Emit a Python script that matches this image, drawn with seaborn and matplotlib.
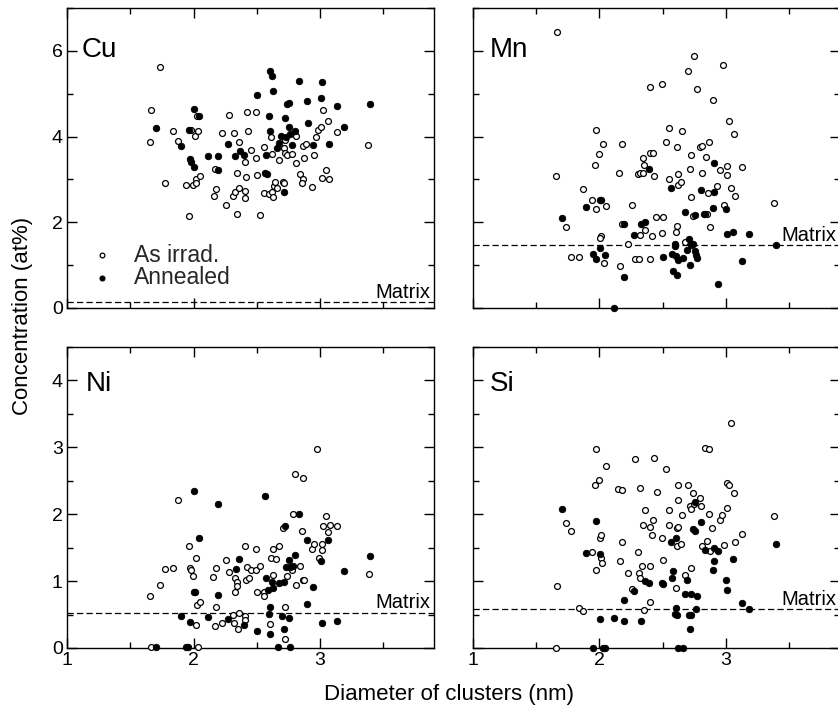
import matplotlib
matplotlib.use("Agg")
import matplotlib.pyplot as plt
from matplotlib.ticker import MultipleLocator
import seaborn as sns

# ---- Cu ----
cu_irr_d = [1.737, 1.666, 1.655, 1.776, 1.834, 1.874, 1.942, 1.963, 1.979, 2.013, 2.026, 2.037,
            1.995, 2.016, 2.053, 2.02, 2.163, 2.174, 2.168, 2.224, 2.255, 2.284, 2.308, 2.316,
            2.326, 2.345, 2.347, 2.358, 2.363, 2.405, 2.408, 2.408, 2.416, 2.424, 2.434, 2.453,
            2.495, 2.495, 2.503, 2.524, 2.553, 2.555, 2.595, 2.613, 2.616, 2.621, 2.626, 2.637,
            2.645, 2.658, 2.676, 2.705, 2.716, 2.716, 2.724, 2.737, 2.726, 2.774, 2.808, 2.813,
            2.842, 2.861, 2.863, 2.855, 2.871, 2.892, 2.934, 2.953, 2.968, 2.982, 3.008, 3.013,
            3.021, 3.047, 3.066, 3.074, 3.132, 3.382]
cu_irr_c = [5.63, 4.61, 3.87, 2.92, 4.14, 3.89, 2.88, 2.14, 4.15, 4.01, 4.47, 4.12,
            2.88, 3.02, 3.07, 2.92, 2.61, 2.77, 3.25, 4.08, 2.41, 4.50, 2.62, 4.08,
            2.71, 3.14, 2.20, 2.79, 3.87, 2.74, 2.57, 3.41, 3.05, 4.57, 4.12, 3.68,
            4.58, 3.49, 3.11, 2.18, 3.76, 2.69, 2.67, 4.00, 3.59, 2.71, 2.59, 2.84,
            2.95, 2.81, 3.45, 2.94, 2.92, 3.74, 3.62, 3.56, 3.91, 3.59, 4.01, 3.39,
            3.13, 3.79, 3.02, 2.91, 3.49, 3.83, 2.83, 3.57, 3.98, 4.15, 4.22, 3.03,
            4.61, 3.23, 4.36, 3.02, 4.11, 3.80]
cu_ann_d = [1.705, 1.897, 1.961, 1.974, 1.976, 2.005, 2.005, 2.045, 2.116, 2.192, 2.195, 2.274,
            2.326, 2.366, 2.395, 2.503, 2.571, 2.563, 2.584, 2.595, 2.603, 2.616, 2.603, 2.624,
            2.663, 2.674, 2.692, 2.713, 2.724, 2.732, 2.739, 2.755, 2.753, 2.761, 2.776, 2.805,
            2.837, 2.895, 2.905, 2.942, 3.005, 3.013, 3.068, 3.134, 3.187, 3.392]
cu_ann_c = [4.19, 3.78, 4.15, 3.47, 3.41, 4.65, 3.28, 4.48, 3.54, 3.55, 3.23, 3.82,
            3.55, 3.66, 3.57, 4.98, 3.56, 3.16, 3.13, 4.49, 5.54, 5.42, 4.12, 5.06,
            3.73, 3.84, 4.01, 2.70, 4.44, 3.99, 4.77, 4.79, 4.22, 4.05, 3.80, 4.12,
            5.29, 4.83, 4.31, 3.80, 4.90, 5.28, 3.82, 4.72, 4.22, 4.76]
cu_matrix = 0.13

# ---- Mn ----
mn_irr_d = [1.667, 1.656, 1.735, 1.777, 1.837, 1.874, 1.945, 1.976, 1.969, 1.997, 1.976, 2.026,
            2.055, 2.013, 2.005, 2.034, 2.155, 2.176, 2.165, 2.181, 2.255, 2.226, 2.281, 2.315,
            2.304, 2.323, 2.344, 2.357, 2.346, 2.404, 2.404, 2.425, 2.436, 2.365, 2.325, 2.415,
            2.404, 2.451, 2.504, 2.496, 2.496, 2.525, 2.554, 2.554, 2.614, 2.625, 2.625, 2.646,
            2.656, 2.614, 2.604, 2.675, 2.703, 2.745, 2.724, 2.714, 2.724, 2.743, 2.774, 2.795,
            2.808, 2.811, 2.845, 2.858, 2.850, 2.866, 2.895, 2.874, 2.934, 2.953, 2.974, 2.984,
            3.013, 3.013, 3.024, 3.039, 3.063, 3.073, 3.131, 3.383, 2.832]
mn_irr_c = [6.44, 3.09, 1.89, 1.18, 1.19, 2.77, 2.53, 4.15, 3.34, 3.59, 2.31, 3.83,
            2.39, 1.68, 1.63, 1.04, 3.16, 3.83, 0.98, 1.97, 2.41, 1.49, 1.14, 1.14,
            3.12, 3.16, 3.16, 3.34, 3.51, 5.15, 3.62, 3.61, 3.09, 1.82, 1.71, 1.69,
            1.15, 2.13, 2.12, 5.23, 1.75, 3.87, 4.19, 3.01, 3.75, 3.13, 2.87, 2.95,
            4.14, 1.91, 1.78, 1.53, 5.52, 5.88, 3.58, 3.24, 2.58, 2.14, 5.12, 3.76,
            3.77, 3.15, 3.53, 2.69, 2.19, 3.87, 4.85, 1.89, 2.84, 3.23, 5.66, 2.41,
            3.31, 3.10, 4.36, 2.81, 4.07, 2.61, 3.30, 2.46, 2.20]
mn_ann_d = [1.709, 1.898, 2.005, 2.016, 2.005, 1.953, 1.976, 2.047, 2.115, 2.194, 2.194, 2.273,
            2.333, 2.365, 2.396, 2.504, 2.564, 2.575, 2.596, 2.601, 2.606, 2.622, 2.583, 2.614,
            2.664, 2.675, 2.693, 2.711, 2.717, 2.727, 2.743, 2.753, 2.753, 2.764, 2.769, 2.803,
            2.829, 2.895, 2.903, 2.903, 2.942, 3.000, 3.013, 3.060, 3.131, 3.184, 3.394]
mn_ann_c = [2.10, 2.36, 2.53, 2.52, 1.40, 1.25, 1.15, 1.23, 0.01, 0.72, 1.97, 1.70,
            1.97, 2.01, 3.24, 1.19, 2.81, 1.25, 1.50, 1.44, 1.21, 1.13, 0.86, 0.76,
            1.16, 2.24, 1.35, 1.61, 1.00, 1.47, 1.50, 2.18, 1.32, 1.23, 1.17, 2.75,
            2.20, 2.34, 2.70, 3.39, 0.55, 2.31, 1.72, 1.77, 1.09, 1.72, 1.46]
mn_matrix = 1.46

# ---- Ni ----
ni_irr_d = [1.658, 1.666, 1.737, 1.774, 1.834, 1.876, 1.966, 1.974, 1.979, 1.995, 2.016, 2.016,
            2.026, 2.053, 2.037, 2.153, 2.176, 2.174, 2.166, 2.224, 2.255, 2.284, 2.308, 2.316,
            2.324, 2.324, 2.345, 2.345, 2.353, 2.363, 2.403, 2.405, 2.405, 2.411, 2.424, 2.437,
            2.455, 2.495, 2.497, 2.503, 2.524, 2.553, 2.558, 2.605, 2.611, 2.626, 2.626, 2.655,
            2.676, 2.705, 2.724, 2.726, 2.742, 2.776, 2.787, 2.803, 2.813, 2.845, 2.855, 2.863,
            2.866, 2.876, 2.934, 2.955, 2.974, 2.989, 3.013, 3.016, 3.021, 3.045, 3.066, 3.076,
            3.132, 3.384]
ni_irr_c = [0.78, 0.01, 0.94, 1.18, 1.19, 2.22, 1.53, 1.19, 1.16, 1.08, 1.35, 0.34,
            0.65, 0.69, 0.01, 1.06, 1.19, 0.61, 0.33, 0.38, 1.31, 1.13, 0.49, 0.38,
            1.04, 0.84, 0.98, 0.92, 0.29, 0.52, 0.48, 0.42, 1.52, 1.02, 1.21, 1.04,
            1.17, 1.48, 1.17, 0.83, 1.22, 0.84, 0.77, 0.36, 1.34, 1.48, 1.09, 1.33,
            1.52, 1.80, 0.61, 0.14, 1.07, 1.16, 2.01, 2.60, 0.94, 1.23, 1.75, 2.54,
            1.02, 1.02, 1.48, 1.56, 2.98, 1.35, 1.47, 1.56, 1.82, 1.97, 1.74, 1.84,
            1.83, 1.11]
ni_ann_d = [1.703, 1.897, 1.942, 1.958, 1.974, 2.005, 2.000, 2.013, 2.045, 2.116, 2.195, 2.195,
            2.276, 2.334, 2.363, 2.395, 2.503, 2.566, 2.571, 2.587, 2.595, 2.605, 2.605, 2.618,
            2.626, 2.666, 2.676, 2.697, 2.711, 2.716, 2.726, 2.732, 2.753, 2.753, 2.766, 2.763,
            2.784, 2.805, 2.834, 2.895, 2.900, 2.942, 3.005, 3.013, 3.066, 3.134, 3.187, 3.392]
ni_ann_c = [0.01, 0.48, 0.01, 0.01, 0.39, 2.34, 0.84, 0.84, 1.64, 0.46, 2.15, 0.79,
            0.43, 1.18, 1.33, 0.34, 0.25, 2.27, 1.05, 0.86, 0.51, 0.61, 0.21, 0.99,
            0.89, 0.01, 0.97, 0.48, 0.98, 0.28, 1.82, 1.21, 1.31, 0.45, 0.01, 1.21,
            1.22, 1.39, 2.01, 1.62, 0.66, 0.91, 1.30, 0.38, 1.62, 0.41, 1.15, 1.37]
ni_matrix = 0.52

# ---- Si ----
si_irr_d = [1.656, 1.664, 1.735, 1.777, 1.837, 1.874, 1.945, 1.976, 1.963, 1.995, 1.976, 2.003,
            2.013, 2.016, 2.021, 2.055, 2.152, 2.176, 2.165, 2.176, 2.226, 2.255, 2.286, 2.304,
            2.325, 2.315, 2.323, 2.341, 2.357, 2.365, 2.344, 2.404, 2.425, 2.415, 2.404, 2.404,
            2.436, 2.454, 2.496, 2.504, 2.525, 2.554, 2.554, 2.604, 2.614, 2.625, 2.625, 2.625,
            2.614, 2.646, 2.656, 2.675, 2.703, 2.714, 2.724, 2.724, 2.743, 2.745, 2.795, 2.803,
            2.811, 2.837, 2.864, 2.853, 2.864, 2.874, 2.892, 2.953, 2.971, 2.984, 3.010, 3.024,
            3.039, 3.013, 3.063, 3.073, 3.131, 3.383]
si_irr_c = [0.00, 0.93, 1.87, 1.75, 0.60, 0.56, 1.44, 2.97, 2.43, 2.51, 1.16, 1.64,
            1.69, 1.34, 1.27, 2.72, 2.37, 2.36, 1.30, 1.58, 1.12, 0.88, 2.82, 1.44,
            2.39, 1.12, 1.05, 1.22, 0.57, 2.07, 1.84, 1.81, 1.92, 1.69, 1.22, 0.69,
            2.84, 2.33, 1.64, 1.31, 2.67, 2.07, 1.84, 0.89, 1.79, 1.81, 2.21, 2.44,
            1.53, 1.56, 1.99, 1.09, 2.44, 2.13, 2.08, 1.20, 2.31, 2.16, 2.24, 2.13,
            1.52, 2.99, 2.98, 1.60, 2.01, 1.45, 1.79, 1.91, 1.99, 1.54, 2.47, 2.43,
            3.36, 2.10, 2.32, 1.59, 1.71, 1.98]
si_ann_d = [1.709, 1.898, 1.976, 2.005, 2.005, 1.953, 2.031, 2.047, 2.115, 2.194, 2.197, 2.273,
            2.333, 2.365, 2.396, 2.493, 2.504, 2.564, 2.575, 2.585, 2.604, 2.596, 2.604, 2.614,
            2.622, 2.664, 2.693, 2.675, 2.711, 2.724, 2.717, 2.724, 2.743, 2.753, 2.764, 2.774,
            2.753, 2.803, 2.832, 2.895, 2.903, 2.903, 2.942, 3.000, 3.013, 3.060, 3.131, 3.184,
            3.394]
si_ann_c = [2.08, 1.42, 1.90, 1.41, 0.43, 0.00, 0.00, 0.00, 0.45, 0.72, 0.40, 0.85,
            0.40, 1.00, 0.97, 0.97, 0.95, 1.58, 1.05, 1.15, 1.65, 0.51, 0.60, 0.49,
            0.00, 0.00, 1.01, 0.81, 0.49, 0.50, 0.28, 0.80, 1.78, 1.75, 0.58, 0.77,
            2.18, 1.88, 1.46, 1.17, 1.30, 1.50, 1.45, 1.02, 0.87, 1.33, 0.68, 0.58,
            1.56]
si_matrix = 0.576

series_labels = ["As irrad.", "Annealed"]
x_range = (1.0, 3.9)

sns.set_theme(style="white")
plt.rcParams["font.family"] = ["Liberation Sans", "DejaVu Sans"]
plt.rcParams["axes.edgecolor"] = "black"
plt.rcParams["axes.linewidth"] = 1.0

fig = plt.figure(figsize=(8.38, 7.08), dpi=100)

W = 367 / 838
panels = [
    # name, irr d, irr c, ann d, ann c, matrix, ymax, major, minor, rect, label y, label x, left col, bottom row
    ("Cu", cu_irr_d, cu_irr_c, cu_ann_d, cu_ann_c, cu_matrix, 7.0, 2, 1,
     [67 / 838, 1 - 308 / 708, W, 300 / 708], 0.838, 0.040, True, False),
    ("Mn", mn_irr_d, mn_irr_c, mn_ann_d, mn_ann_c, mn_matrix, 7.0, 2, 1,
     [472.7 / 838, 1 - 308 / 708, W, 300 / 708], 0.838, 0.046, False, False),
    ("Ni", ni_irr_d, ni_irr_c, ni_ann_d, ni_ann_c, ni_matrix, 4.5, 1, 0.5,
     [67 / 838, 1 - 648 / 708, W, 301 / 708], 0.855, 0.052, True, True),
    ("Si", si_irr_d, si_irr_c, si_ann_d, si_ann_c, si_matrix, 4.5, 1, 0.5,
     [472.7 / 838, 1 - 648 / 708, W, 301 / 708], 0.855, 0.046, False, True),
]

for (name, d_irr, c_irr, d_ann, c_ann, matrix, ymax, major, minor, rect,
     ly, lx, left_col, bottom_row) in panels:
    ax = fig.add_axes(rect)
    ax.axhline(matrix, color="black", lw=0.9, ls=(0, (5, 2.6)), zorder=1)
    sns.scatterplot(x=d_irr, y=c_irr, ax=ax, marker="o", s=18, color="white",
                    edgecolor="black", linewidth=0.9, clip_on=False, zorder=3,
                    label=series_labels[0], legend=False)
    sns.scatterplot(x=d_ann, y=c_ann, ax=ax, marker="o", s=22, color="black",
                    edgecolor="black", linewidth=0.6, clip_on=False, zorder=4,
                    label=series_labels[1], legend=False)
    ax.set_xlim(*x_range)
    ax.set_ylim(0, ymax)
    ax.xaxis.set_major_locator(MultipleLocator(1))
    ax.xaxis.set_minor_locator(MultipleLocator(0.5))
    ax.yaxis.set_major_locator(MultipleLocator(major))
    ax.yaxis.set_minor_locator(MultipleLocator(minor))
    ax.tick_params(which="both", direction="in", top=True, right=True,
                   bottom=True, left=True, color="black", width=1.0,
                   labelsize=14, pad=3, labelcolor="black")
    ax.tick_params(which="major", length=7.5)
    ax.tick_params(which="minor", length=4)
    ax.tick_params(labelleft=left_col, labelbottom=bottom_row)
    ax.set_xlabel("")
    ax.set_ylabel("")
    for sp in ax.spines.values():
        sp.set_color("black")
        sp.set_linewidth(1.0)
    ax.text(lx, ly, name, transform=ax.transAxes, fontsize=20,
            ha="left", va="baseline", color="black")
    ax.annotate("Matrix", xy=(0.99, matrix), xycoords=("axes fraction", "data"),
                xytext=(0, 3.5), textcoords="offset points", ha="right",
                va="baseline", fontsize=14.5, color="black")
    if name == "Cu":
        ax.legend(loc="upper left", bbox_to_anchor=(0.065, 0.215), frameon=False,
                  fontsize=16.5, handlelength=1.0, handletextpad=0.9,
                  labelspacing=0.0, borderpad=0, borderaxespad=0,
                  markerscale=0.8)

fig.text(0.027, 1 - 315.5 / 708, "Concentration (at%)", rotation=90,
         ha="center", va="center", fontsize=16, color="black")
fig.text(448.5 / 838, 1 - 700 / 708, "Diameter of clusters (nm)",
         ha="center", va="baseline", fontsize=16, color="black")

fig.savefig("out.png", dpi=100, facecolor="white")
